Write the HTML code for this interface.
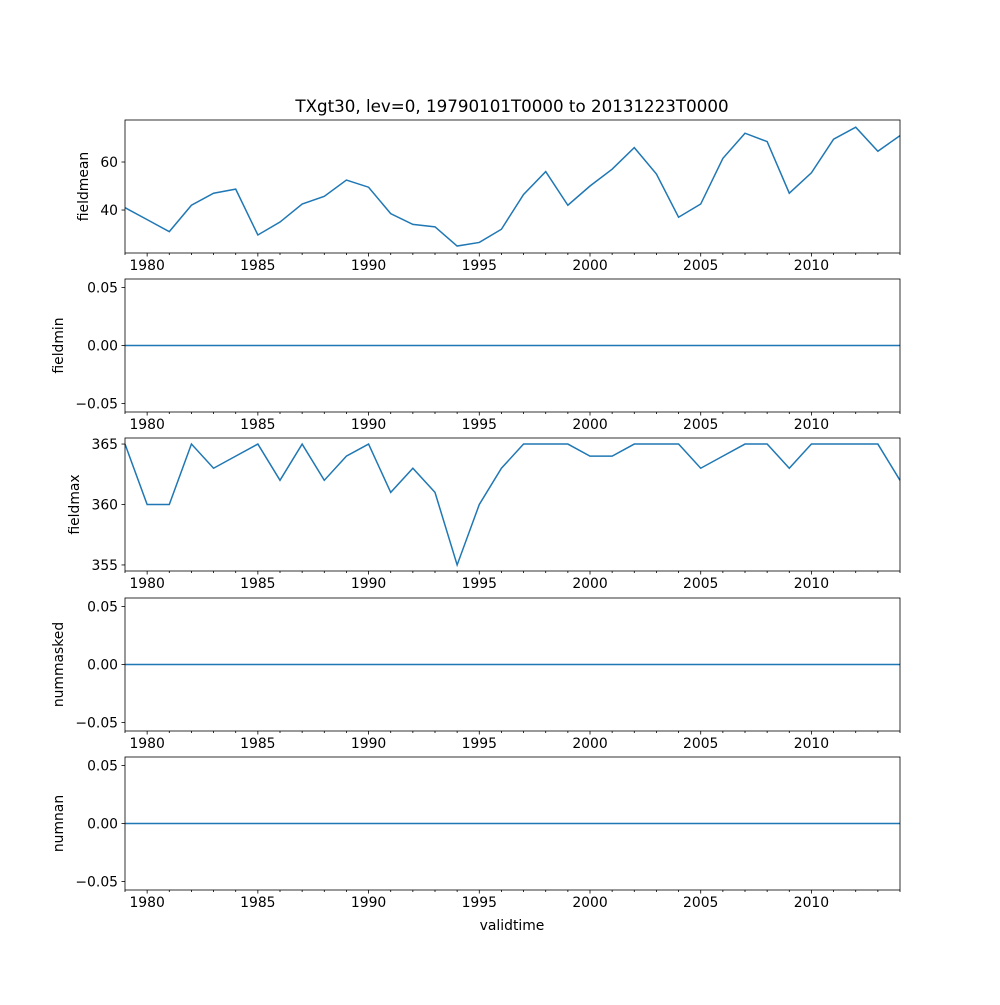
<!DOCTYPE html>
<html><head><meta charset="utf-8"><style>
html,body{margin:0;padding:0;background:#fff;}
svg text{font-family:"DejaVu Sans","Liberation Sans",sans-serif;font-size:13.9px;fill:#000;}
</style></head><body>
<svg id="chart" width="1000" height="1000" viewBox="0 0 1000 1000">
<rect width="1000" height="1000" fill="#fff"/>
<text x="512" y="112" text-anchor="middle" style="font-size:16.7px">TXgt30, lev=0, 19790101T0000 to 20131223T0000</text>
<text x="512" y="930" text-anchor="middle">validtime</text>
</svg>
<script>
const years = [1979,1980,1981,1982,1983,1984,1985,1986,1987,1988,1989,1990,1991,1992,1993,1994,1995,1996,1997,1998,1999,2000,2001,2002,2003,2004,2005,2006,2007,2008,2009,2010,2011,2012,2013,2014];
const fieldmean = [41,36,31,42,47,48.7,29.6,35,42.5,45.7,52.5,49.5,38.5,34,33,25,26.5,32,46.5,56,42,50,57,66,55,37,42.5,61.5,72,68.5,47,55.5,69.5,74.5,64.5,71];
const fieldmax = [365,360,360,365,363,364,365,362,365,362,364,365,361,363,361,355,360,363,365,365,365,364,364,365,365,365,363,364,365,365,363,365,365,365,365,362];
const zeros = years.map(()=>0);
const xTicks = [1980,1985,1990,1995,2000,2005,2010];
const meanTicks = [40,60];
const maxTicks = [355,360,365];
const zeroTicks = [-0.05,0,0.05];
const tickLabels = {"-0.05":"−0.05","0":"0.00","0.05":"0.05"};

const svg = document.getElementById('chart');
const NS = 'http://www.w3.org/2000/svg';
const L = 125, R = 900;
const xMin = 1979, xMax = 2014;
const x = v => L + (v - xMin) / (xMax - xMin) * (R - L);
function mk(tag, attrs){const e=document.createElementNS(NS,tag);for(const k in attrs)e.setAttribute(k,attrs[k]);svg.appendChild(e);return e;}

const panels = [
 {name:'fieldmean', top:120, bot:253, lo:22.1, hi:77.5, data:fieldmean, ticks:meanTicks, fmt:v=>String(v), lx:88},
 {name:'fieldmin', top:279, bot:412, lo:-0.0573, hi:0.0573, data:zeros, ticks:zeroTicks, fmt:v=>tickLabels[String(v)], lx:63},
 {name:'fieldmax', top:438, bot:571, lo:354.5, hi:365.5, data:fieldmax, ticks:maxTicks, fmt:v=>String(v), lx:79},
 {name:'nummasked', top:598, bot:731, lo:-0.0573, hi:0.0573, data:zeros, ticks:zeroTicks, fmt:v=>tickLabels[String(v)], lx:63},
 {name:'numnan', top:757, bot:890, lo:-0.0573, hi:0.0573, data:zeros, ticks:zeroTicks, fmt:v=>tickLabels[String(v)], lx:63}
];
panels.forEach(p=>{
  const y = v => p.bot - (v - p.lo)/(p.hi - p.lo)*(p.bot - p.top);
  const pts = p.data.map((v,i)=>x(years[i]).toFixed(2)+','+y(v).toFixed(2)).join(' ');
  const ln = mk('polyline',{points:pts,fill:'none',stroke:'#1f77b4','stroke-width':1.5});
  
  
  const fr = mk('rect',{x:L,y:p.top,width:R-L,height:p.bot-p.top,fill:'none',stroke:'#000','stroke-width':0.8});
  
  
  for(let yr=xMin; yr<=xMax; yr++){
    const major = xTicks.includes(yr);
    mk('line',{x1:x(yr),x2:x(yr),y1:p.bot,y2:p.bot+(major?3.5:2),stroke:'#000','stroke-width':0.8});
  }
  xTicks.forEach(t=>{
    const tx = mk('text',{x:x(t),y:p.bot+17,'text-anchor':'middle'});
    tx.textContent = t;
    
    
  });
  p.ticks.forEach(t=>{
    mk('line',{x1:L-3.5,x2:L,y1:y(t),y2:y(t),stroke:'#000','stroke-width':0.8});
    const tx = mk('text',{x:L-7,y:y(t)+5,'text-anchor':'end'});
    tx.textContent = p.fmt(t);
    
    
  });
  const cy = (p.top+p.bot)/2;
  const yl = mk('text',{x:p.lx,y:cy,'text-anchor':'middle',transform:`rotate(-90 ${p.lx} ${cy})`});
  yl.textContent = p.name;
  
  
});
</script>
</body></html>
